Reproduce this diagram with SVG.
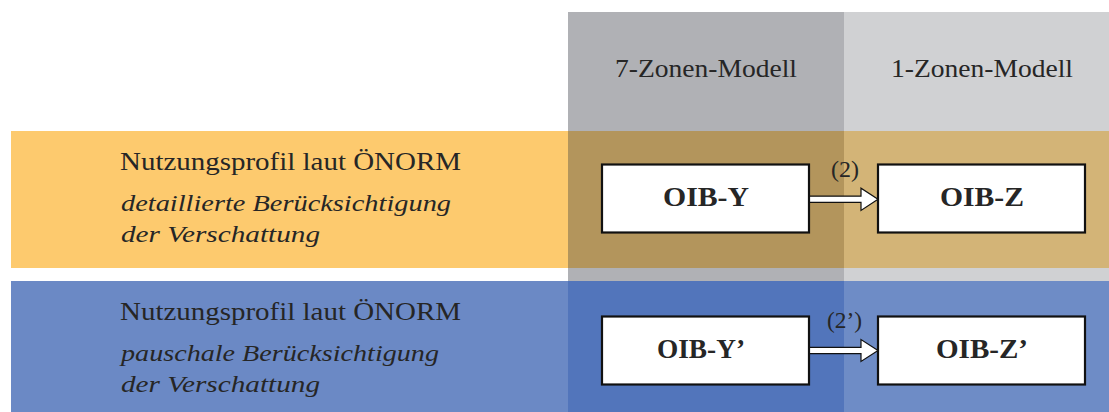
<svg xmlns="http://www.w3.org/2000/svg" width="1109" height="412" viewBox="0 0 1109 412" font-family="Liberation Serif, serif">
<style>
  text { fill: #262626; }
  .hd { font-size: 26px; }
  .rm { font-size: 25px; }
  .it { font-size: 24px; font-style: italic; }
  .bx { fill: #ffffff; stroke: #111111; stroke-width: 2.2; }
  .bl { font-size: 27px; font-weight: bold; }
  .lb { font-size: 24px; }
  .arr { fill: #ffffff; stroke: #111111; stroke-width: 1.2; stroke-linejoin: miter; }
</style>
<rect width="1109" height="412" fill="#ffffff"/>
<g id="background">
  <rect x="568" y="12" width="276" height="400" fill="#b0b1b5"/>
  <rect x="844" y="12" width="265" height="400" fill="#d0d1d3"/>
  <rect x="11" y="131" width="557" height="137" fill="#fdca6e"/>
  <rect x="568" y="131" width="276" height="137" fill="#b3955c"/>
  <rect x="844" y="131" width="265" height="137" fill="#d3b477"/>
  <rect x="11" y="281" width="557" height="131" fill="#6b89c5"/>
  <rect x="568" y="281" width="276" height="131" fill="#5275bb"/>
  <rect x="844" y="281" width="265" height="131" fill="#6e8cc6"/>
</g>
<g id="header-7zonen">
  <text class="hd" x="615" y="77" textLength="182" lengthAdjust="spacingAndGlyphs">7-Zonen-Modell</text>
</g>
<g id="header-1zonen">
  <text class="hd" x="891" y="77" textLength="182" lengthAdjust="spacingAndGlyphs">1-Zonen-Modell</text>
</g>
<g id="row-detailliert">
  <text class="rm" x="120" y="169.5" textLength="341" lengthAdjust="spacingAndGlyphs">Nutzungsprofil laut ÖNORM</text>
  <text class="it" x="121" y="211" textLength="330" lengthAdjust="spacingAndGlyphs">detaillierte Berücksichtigung</text>
  <text class="it" x="121" y="241.5" textLength="199" lengthAdjust="spacingAndGlyphs">der Verschattung</text>
</g>
<g id="row-pauschal">
  <text class="rm" x="120" y="320" textLength="341" lengthAdjust="spacingAndGlyphs">Nutzungsprofil laut ÖNORM</text>
  <text class="it" x="121" y="360.7" textLength="318" lengthAdjust="spacingAndGlyphs">pauschale Berücksichtigung</text>
  <text class="it" x="121" y="392" textLength="199" lengthAdjust="spacingAndGlyphs">der Verschattung</text>
</g>
<g id="connectors">
  <path class="arr" d="M806,196.2 L861,196.2 L861,188.2 L878,199.3 L861,210.4 L861,202.4 L806,202.4 Z"/>
  <text class="lb" x="831" y="177">(2)</text>
  <path class="arr" d="M806,347.4 L861,347.4 L861,339.6 L878,350.5 L861,361.4 L861,353.6 L806,353.6 Z"/>
  <text class="lb" x="827" y="328" textLength="35" lengthAdjust="spacingAndGlyphs">(2’)</text>
</g>
<g id="node-oib-y">
  <rect class="bx" x="602" y="164.5" width="207" height="68"/>
  <text class="bl" x="663" y="206" textLength="86" lengthAdjust="spacingAndGlyphs">OIB-Y</text>
</g>
<g id="node-oib-z">
  <rect class="bx" x="878" y="164.5" width="207" height="68"/>
  <text class="bl" x="940" y="206" textLength="84" lengthAdjust="spacingAndGlyphs">OIB-Z</text>
</g>
<g id="node-oib-y2">
  <rect class="bx" x="602" y="316.5" width="207" height="68"/>
  <text class="bl" x="657" y="358" textLength="88" lengthAdjust="spacingAndGlyphs">OIB-Y’</text>
</g>
<g id="node-oib-z2">
  <rect class="bx" x="878" y="316.5" width="207" height="68"/>
  <text class="bl" x="936" y="358" textLength="92" lengthAdjust="spacingAndGlyphs">OIB-Z’</text>
</g>
</svg>
